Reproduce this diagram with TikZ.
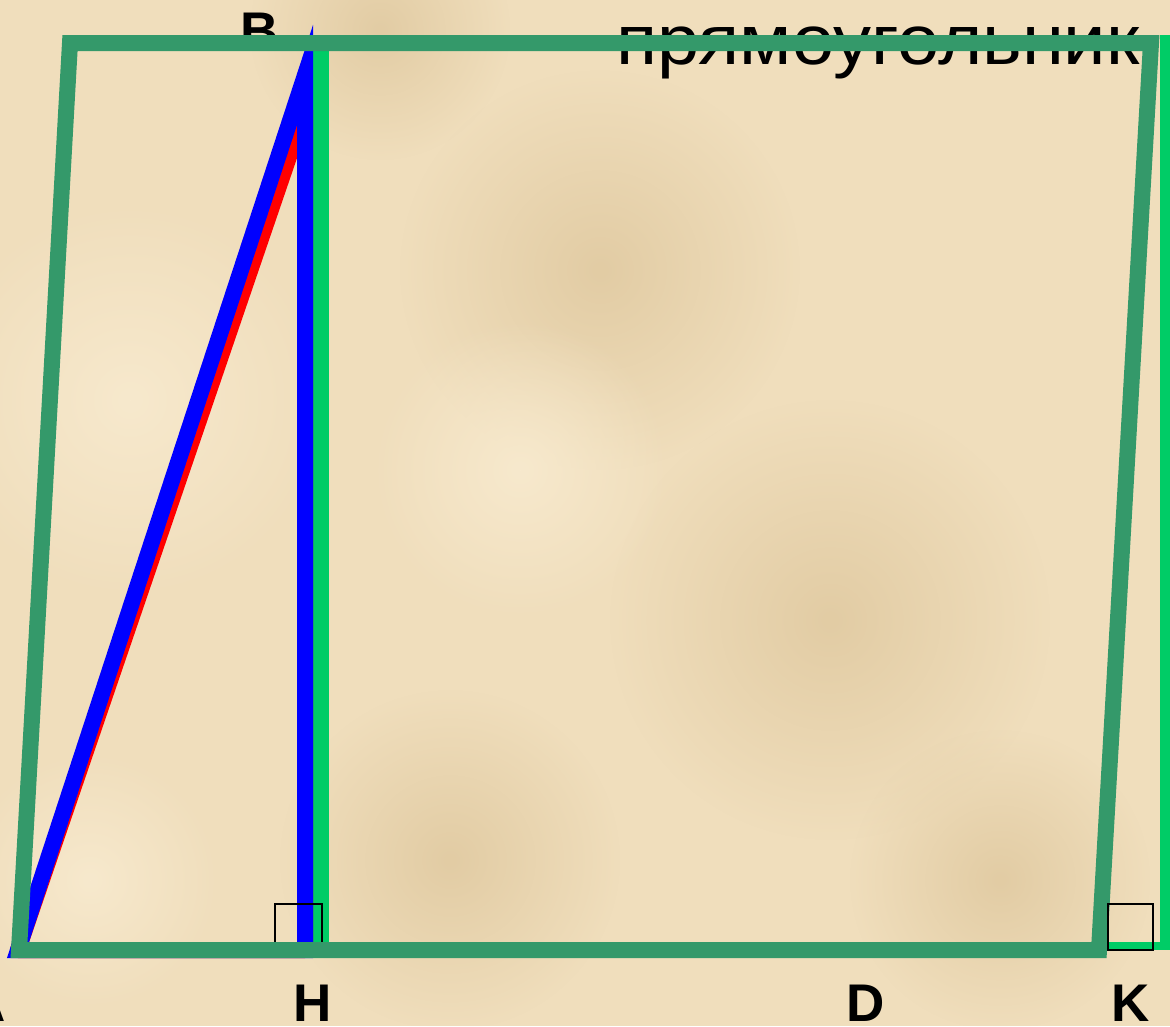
\documentclass[tikz,border=0pt]{standalone}
\usepackage{fontspec}
\setmainfont{Liberation Sans}
\usetikzlibrary{fadings}
\definecolor{parch}{RGB}{240,222,188}
\definecolor{parchdark}{RGB}{226,204,164}
\definecolor{parchlight}{RGB}{247,233,205}
\definecolor{darkgreen}{RGB}{52,153,106}
\definecolor{brightgreen}{RGB}{0,204,102}
\tikzfading[name=softspot, inner color=transparent!0, outer color=transparent!100]
\tikzset{
  lbl/.style={anchor=base, inner sep=0pt, font=\fontsize{53}{60}\selectfont\bfseries, text=black},
  ttl/.style={anchor=base west, inner sep=0pt, font=\fontsize{70}{80}\selectfont, text=black, xscale=1.085},
  para/.style={draw=darkgreen, line width=16pt, line join=miter},
  rightmark/.style={draw=black, line width=2.4pt},
  blotch/.style={fill=parchdark, path fading=softspot},
  glow/.style={fill=parchlight, path fading=softspot},
}
\begin{document}
\begin{tikzpicture}[x=1pt,y=-1pt]
\useasboundingbox (0,0) rectangle (1170,1026);
% background
\fill[parch] (0,0) rectangle (1170,1026);
\fill[blotch] (600,270) circle (200);
\fill[blotch] (830,620) circle (220);
\fill[blotch] (450,860) circle (170);
\fill[blotch] (1000,880) circle (150);
\fill[blotch] (380,30) circle (130);
\fill[glow] (130,400) circle (200);
\fill[glow] (520,470) circle (150);
\fill[glow] (90,880) circle (130);
% texts behind figure
\node[ttl] (title) at (616,64) {прямоугольник};
\node[lbl] (lB) at (260,49) {B};
% bright green rectangle
\draw[brightgreen, line width=16pt] (321,35) -- (321,950);
\draw[brightgreen, line width=10pt] (1165,35) -- (1165,950);
\draw[brightgreen, line width=8pt] (1100,946) -- (1170,946);
% red triangle
\draw[red, line width=16pt, line join=bevel] (18,950) -- (305,110) -- (305,950) -- cycle;
% blue triangle
\draw[blue, line width=16pt, line join=miter] (18,950) -- (305,75) -- (305,950) -- cycle;
% right angle at H
\draw[rightmark] (275,950) -- (275,904) -- (322,904) -- (322,950);
% parallelogram
\draw[para] (70,43) -- (1151,43) -- (1099,950) -- (19,950) -- cycle;
% right angle at K
\draw[rightmark] (1108,904) rectangle (1153,950);
% labels
\node[lbl] (lA) at (-13,1021) {A};
\node[lbl] (lH) at (312.5,1021) {H};
\node[lbl] (lD) at (866,1021) {D};
\node[lbl] (lK) at (1130.5,1021) {K};
\end{tikzpicture}
\end{document}
